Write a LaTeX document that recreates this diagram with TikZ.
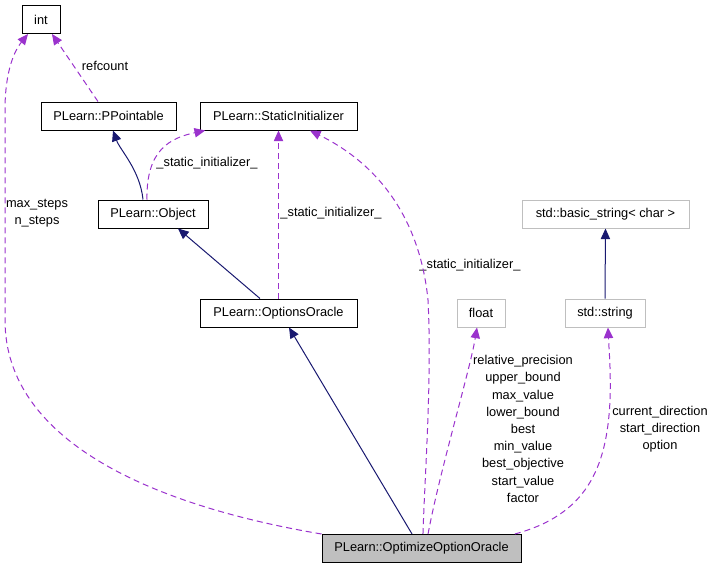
\documentclass[tikz,border=0pt]{standalone}
\usepackage{fontspec}
\setmainfont{Liberation Sans}
\usetikzlibrary{arrows.meta}
\definecolor{navyc}{HTML}{191970}
\definecolor{purp}{HTML}{9A32CD}
\definecolor{grayb}{HTML}{BFBFBF}
\begin{document}
\begin{tikzpicture}[x=0.75pt,y=-0.75pt,
  font=\fontsize{9.6}{12.9}\selectfont,
  box/.style={draw=black,line width=0.75pt,minimum height=21pt,inner sep=1pt,fill=white},
  gbox/.style={box,draw=grayb},
  tbox/.style={box,fill=grayb},
  inh/.style={draw=navyc,line width=0.75pt,-{Triangle[length=8pt,width=7pt]}},
  mem/.style={draw=purp,line width=0.75pt,dash pattern=on 4.5pt off 3pt,-{Triangle[length=8pt,width=7pt]}},
  lbl/.style={align=center,inner sep=0pt}]
\useasboundingbox (0,0) rectangle (715,568);
% nodes
\node[box,minimum width=28.5pt] (int) at (41,19.5) {int};
\node[box,minimum width=101.25pt] (pp) at (108.5,116) {PLearn::PPointable};
\node[box,minimum width=117.75pt] (si) at (278.5,116) {PLearn::StaticInitializer};
\node[box,minimum width=82.5pt] (obj) at (153,214) {PLearn::Object};
\node[gbox,minimum width=125.25pt] (bs) at (605.5,214) {std::basic\_string< char >};
\node[box,minimum width=117.75pt] (oo) at (278.5,313) {PLearn::OptionsOracle};
\node[gbox,minimum width=36pt] (fl) at (481,313) {float};
\node[gbox,minimum width=60pt] (str) at (605,313) {std::string};
\node[tbox,minimum width=149.25pt] (opt) at (421.5,548.5) {PLearn::OptimizeOptionOracle};
% labels
\node[lbl] (l1) at (105,66) {refcount};
\node[lbl] (l2) at (207,163) {\_static\_initializer\_};
\node[lbl] (l3) at (331,213) {\_static\_initializer\_};
\node[lbl] (l4) at (470,265) {\_static\_initializer\_};
\node[lbl] (l5) at (37,213) {max\_steps\\n\_steps};
\node[lbl] (l6) at (523,429) {relative\_precision\\upper\_bound\\max\_value\\lower\_bound\\best\\min\_value\\best\_objective\\start\_value\\factor};
\node[lbl] (l7) at (660,429) {current\_direction\\start\_direction\\option};
% edges
\draw[mem] ([xshift=-7.9pt]pp.north) -- ([xshift=8.25pt]int.south);
\draw[inh] ([xshift=-7.5pt]obj.north) .. controls (140,170) and (120,150) .. ([xshift=3.4pt]pp.south);
\draw[mem] ([xshift=-4.5pt]obj.north) .. controls (146,150) and (170,138) .. ([xshift=-55pt]si.south);
\draw[inh] ([xshift=-13.9pt]oo.north) -- ([xshift=18.75pt]obj.south);
\draw[mem] (oo.north) -- (si.south);
\draw[mem] ([xshift=1.1pt]opt.north) .. controls (425,470) and (432,380) .. (428,300) .. controls (420,220) and (380,165) .. ([xshift=23.6pt]si.south);
\draw[mem] ([xshift=4.9pt]opt.north) .. controls (440,470) and (470,370) .. ([xshift=-3pt]fl.south);
\draw[mem] ([xshift=70pt]opt.north) .. controls (585,515) and (607,470) .. (610,400) .. controls (611,370) and (609,350) .. ([xshift=2.25pt]str.south);
\draw[inh] (str.north) -- (bs.south);
\draw[inh] ([xshift=-7.1pt]opt.north) -- ([xshift=7.9pt]oo.south);
\draw[mem] (opt.north west) .. controls (150,505) and (5,440) .. (5,320) -- (5,110) .. controls (5,70) and (15,50) .. ([xshift=-9.75pt]int.south);
\end{tikzpicture}
\end{document}
